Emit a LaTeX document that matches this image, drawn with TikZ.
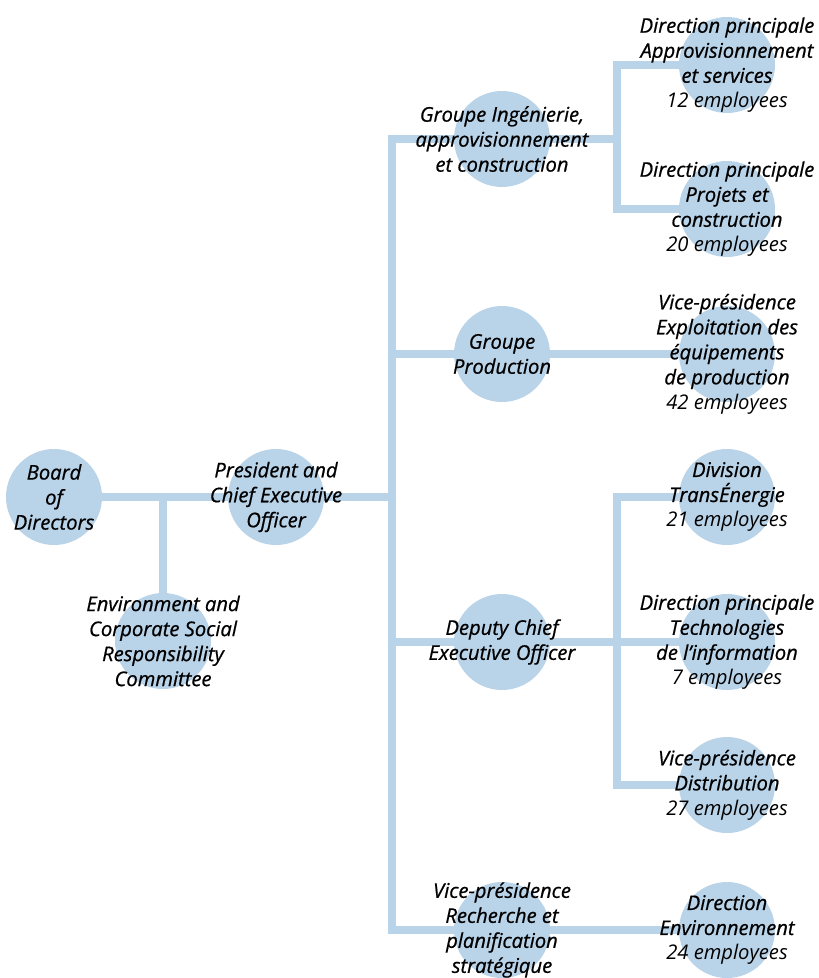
\documentclass[tikz,border=0pt]{standalone}
\usepackage{fontspec}
\setmainfont{Open Sans}
\newfontfamily\unitfont{Open Sans}[ItalicFeatures={FakeBold=0.7}]
\usepackage{tikz}
\usetikzlibrary{positioning, calc, backgrounds}
\definecolor{orgblue}{RGB}{185,211,232}
\newcommand{\staff}[1]{{\normalfont\itshape #1 employees}}

\begin{document}
\begin{tikzpicture}[x=1pt, y=-1pt,
		unit/.style={circle, fill=orgblue, minimum size=96pt, inner sep=0pt},
		txt/.style={align=center, font=\fontsize{20.2}{25}\selectfont\unitfont\itshape},
		link/.style={draw=orgblue, line width=8pt}]
		\useasboundingbox (0,0) rectangle (819,978);
		% Units
		\node[unit] (board) at (54,497) {};
		\node[unit] (pres)  at (276,497) {};
		\node[unit] (comm)  at (163,641) {};
		\node[unit] (grpA)  at (502,139) {};
		\node[unit] (prod)  at (502,354) {};
		\node[unit] (dep)   at (502,642) {};
		\node[unit] (rech)  at (502,930) {};
		\node[unit] (appro) at (727,65) {};
		\node[unit] (proj)  at (727,209) {};
		\node[unit] (vpexp) at (727,354) {};
		\node[unit] (trans) at (727,497) {};
		\node[unit] (tech)  at (727,642) {};
		\node[unit] (distr) at (727,785) {};
		\node[unit] (envir) at (727,930) {};
		% Branch points
		\coordinate (tk) at (392,497);
		\coordinate (sA) at (617,139);
		\coordinate (sB) at (617,642);
		% Connectors
		\begin{scope}[on background layer]
			\draw[link] (board.center) -- (tk);
			\draw[link] (board.center -| comm.center) -- (comm.center);
			\draw[link] (grpA.center) -| (tk) |- (rech.center);
			\draw[link] (prod.center) -- (tk |- prod.center);
			\draw[link] (dep.center) -- (tech.center);
			\draw[link] (tk |- dep.center) -- (dep.center);
			\draw[link] (rech.center) -- (envir.center);
			\draw[link] (grpA.center) -- (sA);
			\draw[link] (appro.center) -| (sA) |- (proj.center);
			\draw[link] (prod.center) -- (vpexp.center);
			\draw[link] (trans.center) -| (sB) |- (distr.center);
		\end{scope}
		% Labels
		\node[txt] at (board) {Board\\of\\Directors};
		\node[txt] at (pres) {President and\\Chief Executive\\Officer};
		\node[txt] at (comm) {Environment and\\Corporate Social\\Responsibility\\Committee};
		\node[txt] at (grpA) {Groupe Ingénierie,\\approvisionnement\\et construction};
		\node[txt] at (prod) {Groupe\\Production};
		\node[txt] at (dep) {Deputy Chief\\Executive Officer};
		\node[txt] at (rech) {Vice-présidence\\Recherche et\\planification\\stratégique};
		\node[txt] at (appro) {Direction principale\\Approvisionnement\\et services\\\staff{12}};
		\node[txt] at (proj) {Direction principale\\Projets et\\construction\\\staff{20}};
		\node[txt] at (vpexp) {Vice-présidence\\Exploitation des\\équipements\\de production\\\staff{42}};
		\node[txt] at (trans) {Division\\TransÉnergie\\\staff{21}};
		\node[txt] at (tech) {Direction principale\\Technologies\\de l’information\\\staff{7}};
		\node[txt] at (distr) {Vice-présidence\\Distribution\\\staff{27}};
		\node[txt] at (envir) {Direction\\Environnement\\\staff{24}};
	\end{tikzpicture}
\end{document}
